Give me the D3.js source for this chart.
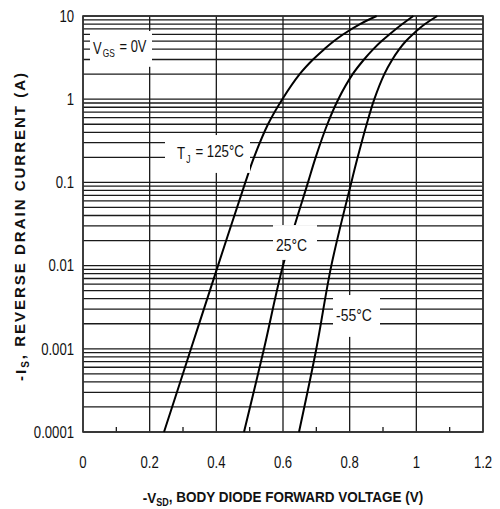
<!DOCTYPE html>
<html>
<head>
<meta charset="utf-8">
<script src="https://cdn.jsdelivr.net/npm/d3@7"></script>
<style>
  body { margin: 0; background: #fff; }
  svg text { font-family: "Liberation Sans Narrow", "Arial Narrow", "Liberation Sans", sans-serif; fill: #111; }
</style>
</head>
<body>
<svg id="chart" width="500" height="509"></svg>
<script>
// tick values and labels
var xTicks = [0, 0.2, 0.4, 0.6, 0.8, 1, 1.2];
var xTickLabels = ["0", "0.2", "0.4", "0.6", "0.8", "1", "1.2"];
var xMinorTicks = [0.1, 0.3, 0.5, 0.7, 0.9, 1.1];
var yTicks = [0.0001, 0.001, 0.01, 0.1, 1, 10];
var yTickLabels = ["0.0001", "0.001", "0.01", "0.1", "1", "10"];

// curves: forward voltage (V) vs reverse drain current (A)
var currents = [0.0001, 0.001, 0.01, 0.1, 0.2, 0.5, 1, 2, 3, 4, 5, 6, 8, 10];
var vsd125 = [0.243, 0.324, 0.405, 0.487, 0.513, 0.555, 0.598, 0.65, 0.69, 0.724, 0.753, 0.78, 0.831, 0.881];
var vsd25  = [0.483, 0.543, 0.6, 0.675, 0.698, 0.733, 0.766, 0.809, 0.843, 0.871, 0.896, 0.919, 0.958, 0.991];
var vsdM55 = [0.648, 0.7, 0.745, 0.805, 0.824, 0.851, 0.874, 0.904, 0.928, 0.949, 0.969, 0.989, 1.026, 1.063];

var margin = {top: 16, right: 17, bottom: 77, left: 83};
var svg = d3.select('#chart');
var width = 500 - margin.left - margin.right,
    height = 509 - margin.top - margin.bottom;

var x = d3.scaleLinear().domain([0, 1.2]).range([0, width]);
var y = d3.scaleLog().domain([0.0001, 10]).range([height, 0]);

var chart = svg.append('g')
  .attr('transform', 'translate(' + margin.left + ',' + margin.top + ')');

// squeeze a text to a narrow face (no narrow font installed)
function condense(sel, k, len){
  sel.each(function(){
    var full = this.getComputedTextLength();
    d3.select(this).attr('textLength', len || full * k).attr('lengthAdjust', 'spacingAndGlyphs');
  });
}

// horizontal grid: every 1..9 of each decade
chart.append('g')
  .selectAll('line')
  .data(y.ticks())
  .enter().append('line')
  .attr('x1', 0).attr('x2', width)
  .attr('y1', function(d){ return y(d) })
  .attr('y2', function(d){ return y(d) })
  .attr('stroke', '#1a1a1a')
  .attr('stroke-width', 1.3);

// vertical grid
chart.append('g')
  .selectAll('line')
  .data(xTicks)
  .enter().append('line')
  .attr('x1', function(d){ return x(d) })
  .attr('x2', function(d){ return x(d) })
  .attr('y1', 0).attr('y2', height)
  .attr('stroke', '#1a1a1a')
  .attr('stroke-width', 1.3);

// minor ticks at the bottom
chart.append('g')
  .selectAll('line')
  .data(xMinorTicks)
  .enter().append('line')
  .attr('x1', function(d){ return x(d) })
  .attr('x2', function(d){ return x(d) })
  .attr('y1', height).attr('y2', height - 5)
  .attr('stroke', '#1a1a1a')
  .attr('stroke-width', 1.3);

// frame
chart.append('rect')
  .attr('width', width).attr('height', height)
  .attr('fill', 'none')
  .attr('stroke', '#333')
  .attr('stroke-width', 1.6);

// curves
var line = d3.line()
  .x(function(d){ return x(d[0]) })
  .y(function(d){ return y(d[1]) })
  .curve(d3.curveCatmullRom.alpha(0.5));

var series = [
  d3.zip(vsd125, currents),
  d3.zip(vsd25, currents),
  d3.zip(vsdM55, currents)
];
chart.selectAll('.curve')
  .data(series)
  .enter().append('path')
  .attr('class', 'curve')
  .attr('d', line)
  .attr('fill', 'none')
  .attr('stroke', '#000')
  .attr('stroke-width', 2);

// label boxes (in data units) that blank out the grid behind the text
var boxes = [
  {x0: 0.021, x1: 0.207, y0: 6.6, y1: 2.45},
  {x0: 0.246, x1: 0.501, y0: 0.371, y1: 0.13},
  {x0: 0.57, x1: 0.702, y0: 0.0307, y1: 0.0117},
  {x0: 0.75, x1: 0.891, y0: 0.00443, y1: 0.00139}
];
chart.selectAll('.box')
  .data(boxes)
  .enter().append('rect')
  .attr('class', 'box')
  .attr('x', function(d){ return x(d.x0) })
  .attr('y', function(d){ return y(d.y0) })
  .attr('width', function(d){ return x(d.x1) - x(d.x0) })
  .attr('height', function(d){ return y(d.y1) - y(d.y0) })
  .attr('fill', '#fff');

// labels: drawn at natural width inside a group squeezed horizontally
function label(xv, yv, anchor, parts, k){
  var g = chart.append('g')
    .attr('transform', 'translate(' + x(xv) + ',' + y(yv) + ') scale(' + k + ',1)');
  var t = g.append('text')
    .attr('dy', '0.36em')
    .attr('text-anchor', anchor)
    .style('font-size', '17px');
  if(parts.length === 1){
    t.text(parts[0].t);
  }else{
    parts.forEach(function(p){
      var s = t.append('tspan').text(p.t);
      if(p.sub) s.style('font-size', '11px').attr('dy', '0.3em').attr('dx', 1.5);
      if(p.back) s.attr('dy', '-0.3em').attr('dx', 1.5);
    });
  }
  return t;
}
label(0.03, 4.12, 'start', [{t: 'V'}, {t: 'GS', sub: true}, {t: ' = 0V', back: true}], 0.76);
label(0.282, 0.225, 'start', [{t: 'T'}, {t: 'J', sub: true}, {t: ' = 125°C', back: true}], 0.78);
label(0.6255, 0.0177, 'middle', [{t: '25°C'}], 0.82);
label(0.813, 0.00255, 'middle', [{t: '-55°C'}], 0.82);

// y tick labels
chart.append('g')
  .selectAll('text')
  .data(yTicks)
  .enter().append('text')
  .attr('x', -9)
  .attr('y', function(d){ return y(d) })
  .attr('dy', '0.36em')
  .attr('text-anchor', 'end')
  .style('font-size', '16px')
  .text(function(d, i){ return yTickLabels[i] })
  .call(condense, 0.82);

// x tick labels
chart.append('g')
  .selectAll('text')
  .data(xTicks)
  .enter().append('text')
  .attr('x', function(d){ return x(d) })
  .attr('y', height + 36)
  .attr('text-anchor', 'middle')
  .style('font-size', '16px')
  .text(function(d, i){ return xTickLabels[i] })
  .call(condense, 0.82);

// axis titles
var xt = svg.append('g')
  .attr('transform', 'translate(283,503) scale(0.9,1)')
  .append('text')
  .attr('text-anchor', 'middle')
  .style('font-size', '15px')
  .style('font-weight', 'bold');
xt.append('tspan').text('-V');
xt.append('tspan').text('SD').style('font-size', '10px').attr('dy', '0.3em');
xt.append('tspan').text(',  BODY DIODE FORWARD VOLTAGE (V)').attr('dy', '-0.3em');

var yt = svg.append('text')
  .attr('transform', 'translate(26,226) rotate(-90)')
  .attr('text-anchor', 'middle')
  .style('font-family', '"Liberation Sans", Arial, sans-serif')
  .style('font-size', '15px')
  .style('font-weight', 'bold')
  .style('letter-spacing', '2px');
yt.append('tspan').text('-I');
yt.append('tspan').text('S').style('font-size', '10px').attr('dy', '0.3em');
yt.append('tspan').text(', REVERSE DRAIN CURRENT (A)').attr('dy', '-0.3em');
</script>
</body>
</html>
